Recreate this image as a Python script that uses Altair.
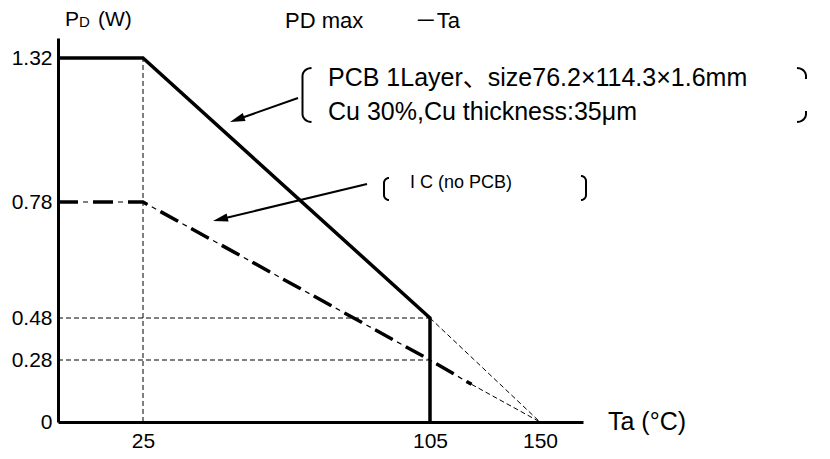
import math
import altair as alt
import pandas as pd

# ---- chart values ----
ta_pcb = [0, 25, 105, 105]
pd_pcb = [1.32, 1.32, 0.48, 0]
ta_pcb_ext = [105, 150]
pd_pcb_ext = [0.48, 0]
ta_ic = [0, 25, 105, 122]
pd_ic = [0.78, 0.78, 0.28, 0.17]
ta_ic_ext = [122, 150]
pd_ic_ext = [0.17, 0]
guide_x = [25, 0, 0]
guide_x2 = [25, 105, 105]
guide_y = [0, 0.48, 0.28]
guide_y2 = [1.32, 0.48, 0.28]
x_ticks = [25, 105, 150]
y_ticks = [0, 0.28, 0.48, 0.78, 1.32]

FONT = "Liberation Sans, Arial, Noto Sans CJK JP"

# schematic (not-to-scale) axes: piecewise linear scales
xscale = alt.Scale(domain=[0, 25, 105, 150, 168], range=[0, 85, 372, 482, 525],
                   nice=False, zero=False)
yscale = alt.Scale(domain=[0, 0.28, 0.48, 0.78, 1.32, 1.45],
                   range=[384, 322, 280, 164, 20, 0], nice=False, zero=False)

xaxis = alt.Axis(values=x_ticks, format=".2~f", title=None, grid=False, ticks=False,
                 domainColor="black", domainWidth=3, labelColor="black",
                 labelFont=FONT, labelFontSize=21, labelPadding=8)
yaxis = alt.Axis(values=y_ticks, format=".2~f", title=None, grid=False, ticks=False,
                 domainColor="black", domainWidth=3, labelColor="black",
                 labelFont=FONT, labelFontSize=21, labelPadding=6)


def X(f):
    return alt.X(f, type="quantitative", scale=xscale, axis=xaxis)


def Y(f):
    return alt.Y(f, type="quantitative", scale=yscale, axis=yaxis)


def series(xs, ys):
    return pd.DataFrame({"ta": xs, "pd": ys, "i": list(range(len(xs)))})


layers = []

# guide (thin dashed) lines
guides = pd.DataFrame({"x": guide_x, "x2": guide_x2, "y": guide_y, "y2": guide_y2})
layers.append(alt.Chart(guides).mark_rule(color="black", strokeWidth=1, strokeDash=[5, 3]).encode(
    x=X("x"), x2="x2", y=Y("y"), y2="y2"))

# thin dashed extensions to 150
for xs, ys in [(ta_pcb_ext, pd_pcb_ext), (ta_ic_ext, pd_ic_ext)]:
    layers.append(alt.Chart(series(xs, ys)).mark_line(color="black", strokeWidth=1, strokeDash=[5, 3]).encode(
        x=X("ta"), y=Y("pd"), order="i:Q"))

# IC (no PCB) dash-dot line: thin underlay + thick dashes
ic = series(ta_ic, pd_ic)
layers.append(alt.Chart(ic).mark_line(color="black", strokeWidth=1.2, strokeDash=[20, 5, 5, 5]).encode(
    x=X("ta"), y=Y("pd"), order="i:Q"))
layers.append(alt.Chart(ic).mark_line(color="black", strokeWidth=3.5, strokeDash=[20, 15]).encode(
    x=X("ta"), y=Y("pd"), order="i:Q"))

# PCB solid line
layers.append(alt.Chart(series(ta_pcb, pd_pcb)).mark_line(color="black", strokeWidth=3.5).encode(
    x=X("ta"), y=Y("pd"), order="i:Q"))

# ---- annotations (pixel positions relative to the plot origin) ----
one = pd.DataFrame({"a": [0]})


def text(t, x, y, size, align="left", baseline="alphabetic"):
    return alt.Chart(one).mark_text(text=t, font=FONT, fontSize=size, color="black",
                                    align=align, baseline=baseline).encode(
        x=alt.value(x), y=alt.value(y))


layers += [
    text("P", 7, -12, 21),
    text("D", 21, -11, 15),
    text("(W)", 40, -12, 21),
    text("PD max", 227, -10, 22),
    text("－Ta", 402, -10, 22, align="right"),
    text("PCB 1Layer、size76.2×114.3×1.6mm", 270, 48, 25),
    text("Cu 30%,Cu thickness:35μm", 270, 82, 25),
    text("I C (no PCB)", 352, 150, 18),
    text("Ta (°C)", 550, 392, 25),
]


# brackets
def arc(xa, xb, ya, yb, n=8):
    # quarter ellipse from (xa, ya) to (xb, yb), horizontal tangent at start
    pts = []
    for k in range(n + 1):
        t = math.pi / 2 * k / n
        pts.append((xa + (xb - xa) * math.sin(t), yb - (yb - ya) * math.cos(t)))
    return pts


def bracket(xl, xr, top, bot, left=True, h=8):
    xo, xi = (xr, xl) if left else (xl, xr)
    pts = []
    pts += arc(xo, xi, top, top + h)
    pts += list(reversed(arc(xo, xi, bot, bot - h)))
    return pts


bpts = []
for gid, pts in enumerate([
    bracket(244.5, 253.5, 30, 84, True),
    bracket(326, 331, 140, 162, True, h=5),
    bracket(523, 528, 138, 162, False, h=5),
]):
    for j, (bx, by) in enumerate(pts):
        bpts.append({"bx": bx, "by": by, "g": gid, "o": j})
# right bracket of the first box: only its two hooks are visible
for gid, pts in [(10, arc(739, 748, 30, 38) + [(748, 41)]),
                 (11, [(748, 73)] + list(reversed(arc(739, 748, 84, 76))))]:
    for j, (bx, by) in enumerate(pts):
        bpts.append({"bx": bx, "by": by, "g": gid, "o": j})
layers.append(alt.Chart(pd.DataFrame(bpts)).mark_line(color="black", strokeWidth=2).encode(
    x=alt.X("bx:Q", scale=None, axis=None), y=alt.Y("by:Q", scale=None, axis=None),
    detail="g:N", order="o:Q"))

# arrows
ARROW_PATH = "M0,-1L-0.55,1L0.55,1Z"
for (sx, sy), (tx, ty) in [((240, 60), (172, 84)), ((309, 146), (155, 183))]:
    dx, dy = tx - sx, ty - sy
    L = math.hypot(dx, dy)
    ux, uy = dx / L, dy / L
    head = 15
    cx, cy = tx - ux * head / 2, ty - uy * head / 2
    ang = math.degrees(math.atan2(ux, -uy)) % 360
    layers.append(alt.Chart(one).mark_rule(color="black", strokeWidth=2).encode(
        x=alt.value(sx), y=alt.value(sy), x2=alt.value(cx), y2=alt.value(cy)))
    layers.append(alt.Chart(one).mark_point(shape=ARROW_PATH, filled=True, color="black",
                                            opacity=1, size=head * head, angle=ang).encode(
        x=alt.value(cx), y=alt.value(cy)))

chart = alt.layer(*layers).properties(
    width=525, height=384,
    autosize=alt.AutoSizeParams(type="none"),
    padding={"left": 50, "top": 30, "right": 239, "bottom": 29},
    background="white",
).configure_view(stroke=None)

chart.save("out.html", embed_options={"renderer": "svg", "actions": False})
